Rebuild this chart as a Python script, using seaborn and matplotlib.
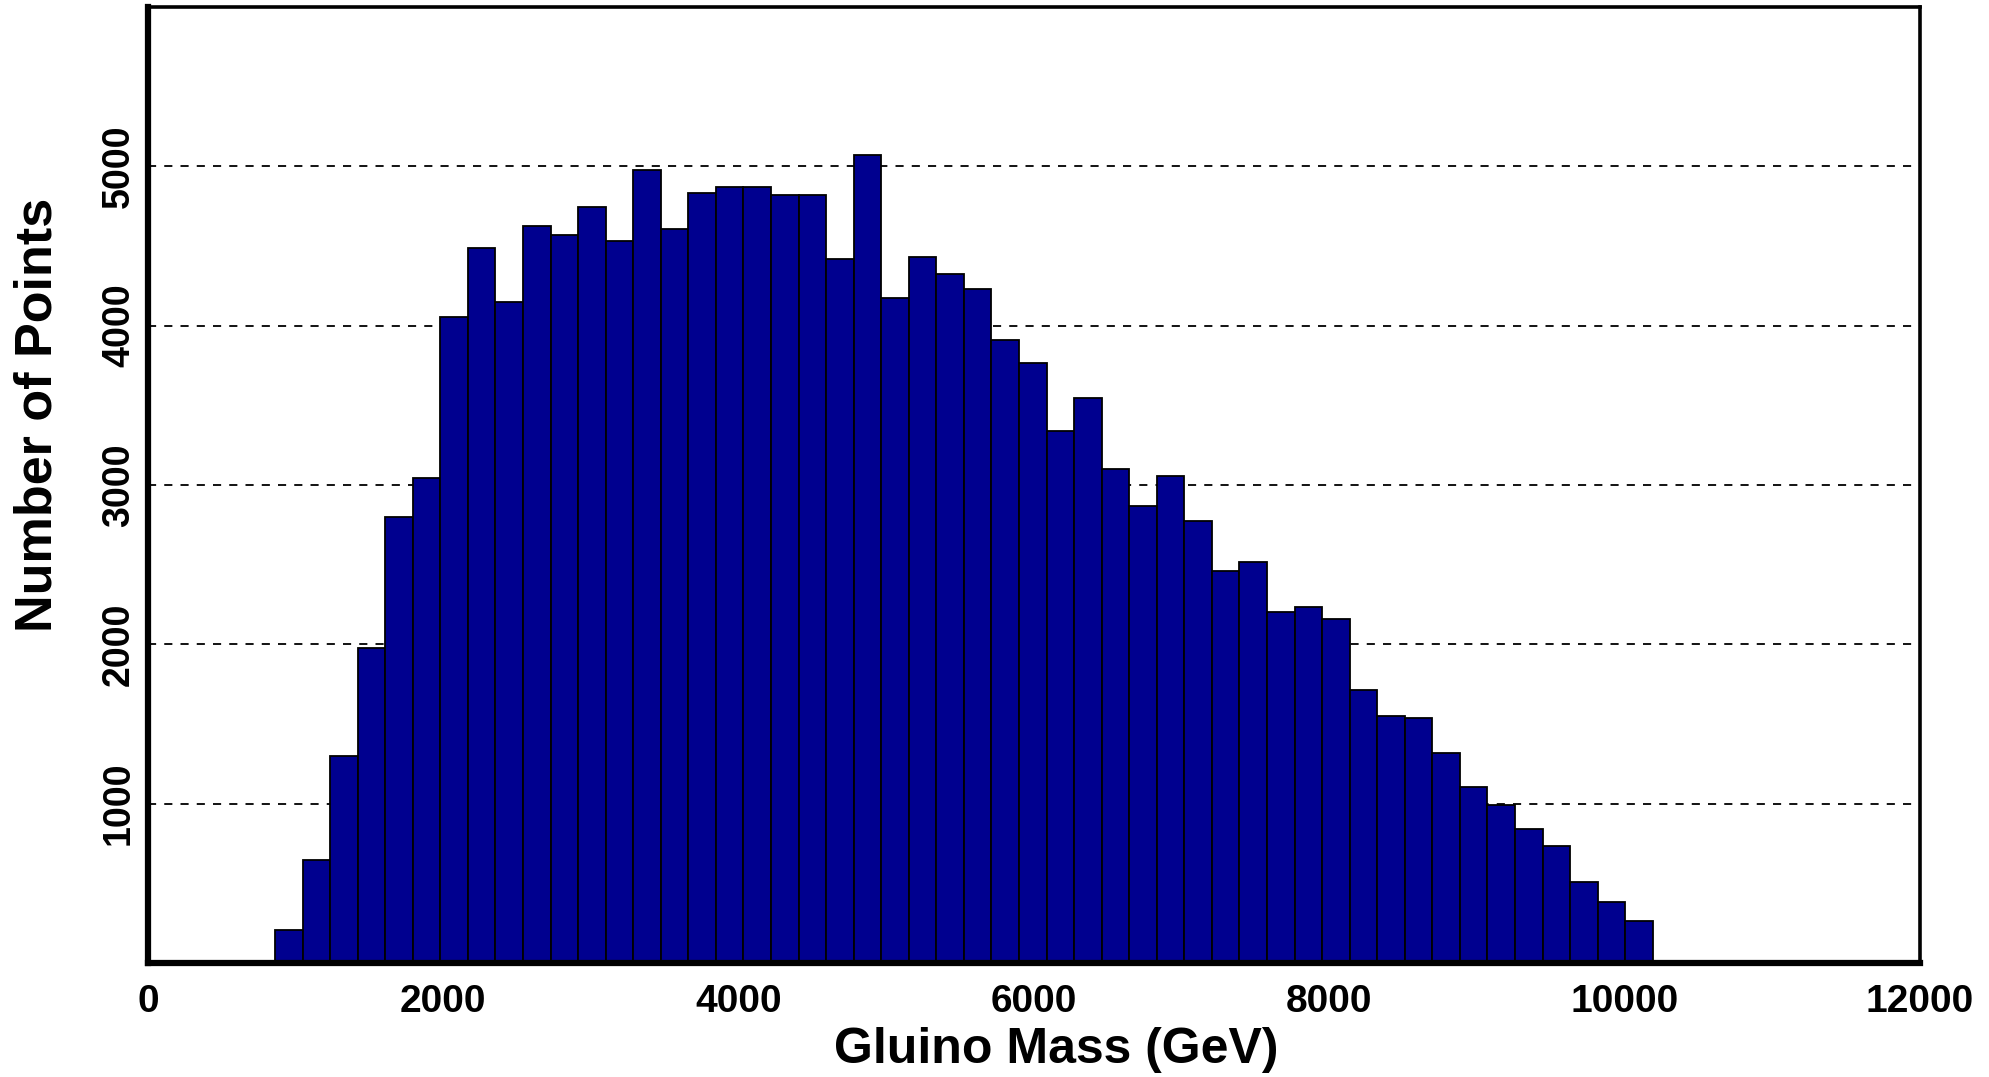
import numpy as np
import pandas as pd
import matplotlib
matplotlib.use("Agg")
import matplotlib.pyplot as plt
import seaborn as sns

# ---- data ----
bin_low = 860.0      # left edge of first bin (GeV)
bin_high = 10190.0   # right edge of last bin (GeV)
counts = [204, 645, 1298, 1977, 2802, 3047, 4052, 4490, 4151, 4626,
          4569, 4745, 4531, 4976, 4609, 4830, 4868, 4868, 4817, 4817,
          4416, 5068, 4171, 4433, 4324, 4229, 3913, 3767, 3342, 3546,
          3101, 2867, 3057, 2772, 2459, 2517, 2201, 2232, 2160, 1715,
          1549, 1535, 1318, 1104, 992, 842, 734, 506, 380, 262]
x_ticks = [0, 2000, 4000, 6000, 8000, 10000, 12000]
y_ticks = [1000, 2000, 3000, 4000, 5000]
x_label = "Gluino Mass (GeV)"
y_label = "Number of Points"

edges = np.linspace(bin_low, bin_high, len(counts) + 1)
centers = 0.5 * (edges[:-1] + edges[1:])
df = pd.DataFrame({"mass": centers, "n": counts})

sns.set_style("white")
plt.rcParams["font.family"] = ["Liberation Sans", "DejaVu Sans"]
plt.rcParams["text.color"] = "black"
plt.rcParams["axes.labelcolor"] = "black"
plt.rcParams["xtick.color"] = "black"
plt.rcParams["ytick.color"] = "black"

fig = plt.figure(figsize=(19.9, 10.77), dpi=100)
ax = fig.add_axes([148 / 1990, 1 - 963 / 1077, (1920 - 148) / 1990, (963 - 7) / 1077])

sns.histplot(data=df, x="mass", weights="n", bins=len(counts),
             binrange=(bin_low, bin_high), ax=ax,
             color="#00008F", edgecolor="black", linewidth=1.3, alpha=1.0)

ax.set_xlim(0, 12000)
ax.set_ylim(0, 6000)
ax.set_xticks(x_ticks)
ax.set_yticks(y_ticks)
ax.set_xticklabels([str(v) for v in x_ticks], fontsize=28, fontweight="bold")
ax.set_yticklabels([str(v) for v in y_ticks], fontsize=27, fontweight="bold",
                   rotation=90, va="center")
ax.tick_params(axis="x", length=0, pad=15, colors="black")
ax.tick_params(axis="y", length=0, pad=8, colors="black")

ax.grid(axis="y", linestyle=(0, (4.5, 4.5)), color="black", linewidth=1.3)
ax.grid(axis="x", visible=False)
ax.set_axisbelow(True)

for side in ["left", "bottom"]:
    ax.spines[side].set_linewidth(4.5)
    ax.spines[side].set_color("black")
for side in ["top", "right"]:
    ax.spines[side].set_linewidth(2.6)
    ax.spines[side].set_color("black")
    ax.spines[side].set_visible(True)

ax.set_xlabel(x_label, fontsize=36, fontweight="bold", color="black")
ax.set_ylabel(y_label, fontsize=37.5, fontweight="bold", color="black")
ax.xaxis.set_label_coords((1056 - 148) / (1920 - 148), -(1050 - 963) / (963 - 7))
ax.yaxis.set_label_coords(-(148 - 38) / (1920 - 148), (963 - 415) / (963 - 7))
ax.xaxis.label.set_va("center")
ax.yaxis.label.set_va("center")

fig.savefig("out.png", dpi=100, facecolor="white")
